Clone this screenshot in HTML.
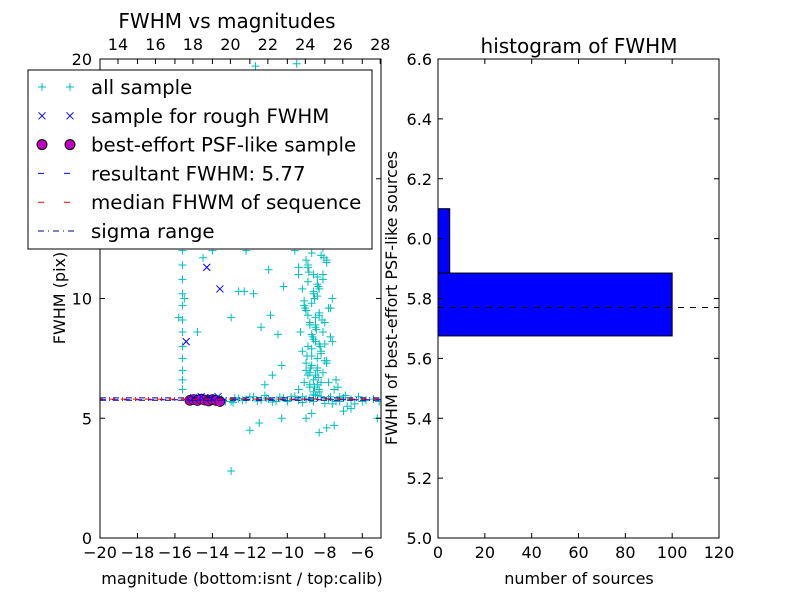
<!DOCTYPE html>
<html><head><meta charset="utf-8"><style>
body{margin:0;background:#fff;}
svg text{font-family:"DejaVu Sans","Liberation Sans",sans-serif;fill:#000;}
</style></head><body>
<svg id="c" width="800" height="600" xmlns="http://www.w3.org/2000/svg"></svg>
<script>
// ---- left scatter data (magnitude isnt, FWHM pix) ----
const allMag=[-15.6,-15.6,-15.6,-15.6,-15.6,-15.6,-15.6,-15.6,-15.6,-15.6,-15.6,-15.6,-15.6,-15.8,-15.5,-14.8,-14.3,-14.0,-13.0,-12.6,-14.5,
-9.4,-9.1,-8.8,-8.5,-8.3,-9.0,-8.7,-8.4,-9.2,-8.9,-8.6,-8.3,-9.3,-8.8,-8.5,-9.0,-8.7,-8.4,-9.2,-8.9,-8.6,-9.4,-9.0,-8.7,-9.3,-8.9,-9.5,-9.1,-9.6,-9.2,-9.8,-9.4,-9.9,-9.5,-10.0,-9.6,-10.1,-9.7,-10.2,-9.8,-9.5,-11.7,
-10.3,-10.8,-11.2,-10.5,-10.9,-11.4,-10.2,-11.0,-11.8,-12.3,-10.6,-12.0,-12.2,-7.8,-7.5,-7.2,-7.9,-7.6,-8.0,-7.7,-8.1,-7.9,-8.2,-8.0,-8.5,-8.8,-8.9,-9.2,
-8.6,-8.4,-8.8,-9.0,-8.2,-8.7,-8.5,-8.3,-9.1,-8.6,-8.4,-8.9,-8.1,-8.5,-8.7,-8.3,-9.0,-8.6,-8.8,-8.4,
-8.55,-8.35,-8.75,-8.95,-8.25,-8.65,-8.45,-8.15,-9.05,-8.55,-8.35,-8.85,-8.05,-8.45,-8.65,-8.25,-8.95,-8.55,-8.75,-8.35,
-8.6,-8.2,-8.9,-8.4,-8.0,-8.7,-8.5,-8.1,-8.8,-8.3,-9.1,-8.6,-8.4,-8.9,-8.2,-8.7,-9.3,-9.0,-9.4,-9.2,
-8.5,-8.3,-8.8,-8.6,-8.1,-8.4,-7.9,-8.7,-8.2,-8.0,-7.7,-8.5,-8.9,-7.8,-7.6,-8.3,-7.4,-8.1,-7.9,-7.3,
-9.6,-9.8,-10.0,-9.7,-9.9,-10.2,-9.5,-9.3,-9.6,-9.4,
-12.0,-13.0,-11.5,-10.3,-9.0,-8.3,-7.5,-8.7,-7.0,-6.6,-5.2,-7.9,
-15.3,-14.8,-14.2,-13.5,-13.0,-12.6,-12.2,-11.8,-11.4,-11.0,-10.6,-10.2,-9.8,-9.4,-9.0,-8.6,-8.2,-7.8,-7.4,-7.0,-6.6,-6.2,-5.8,-5.4,-5.1,-12.9,-11.2,-10.0,-9.2,-7.6,-6.9,-6.0,
-13.3,-12.8,-12.4,-12.0,-11.6,-11.1,-10.8,-10.4,-10.0,-9.6,-9.2,-8.8,-8.4,-8.0,-7.7,-7.2,-6.8,-6.4];
const allFwhm=[6.2,6.6,7.0,7.5,8.0,8.6,9.1,9.7,10.2,10.8,11.4,12.0,12.6,9.2,10.0,8.6,12.5,12.0,9.2,10.3,11.7,
6.2,6.5,6.3,6.8,6.1,7.0,7.2,7.5,7.8,8.0,8.3,8.1,8.6,8.9,9.2,9.5,9.8,10.1,10.4,10.7,11.0,11.3,11.6,11.9,12.2,12.5,12.8,13.1,13.4,13.8,14.1,14.5,15.0,15.5,16.0,16.6,17.2,17.8,18.5,19.3,19.8,19.7,
7.2,6.8,6.4,8.5,9.3,8.8,10.5,11.2,10.2,10.3,12.4,14.5,12.0,6.5,6.2,5.9,7.4,8.2,9.0,9.6,10.8,11.5,12.6,13.2,14.2,15.1,16.5,18.0,
6.0,6.4,6.9,7.3,7.7,8.5,8.8,9.4,9.9,10.3,10.9,11.4,12.1,12.9,13.6,14.8,15.8,16.9,17.5,18.8,
6.3,6.7,7.1,7.6,8.0,8.4,8.7,9.1,9.6,10.0,10.5,11.1,11.7,12.3,13.0,13.8,14.6,15.3,16.2,17.1,
6.1,6.5,6.8,7.1,7.4,7.9,8.2,8.6,9.0,9.3,9.7,10.2,10.6,11.3,11.8,12.4,13.4,14.0,15.7,16.8,
5.95,6.2,6.4,6.6,6.9,7.0,7.3,7.6,7.8,8.1,8.4,8.9,9.3,9.6,10.0,10.4,6.6,11.0,11.6,6.3,
14.3,15.2,16.4,17.5,18.2,18.9,13.5,13.0,12.0,11.0,
4.5,2.8,4.8,5.0,5.0,4.4,4.7,5.2,5.3,5.4,5.0,4.6,
5.8,5.75,5.85,5.8,5.7,5.82,5.78,5.9,5.75,5.8,5.7,5.85,5.9,5.75,5.8,5.7,5.9,5.82,5.7,5.85,5.78,5.9,5.75,5.8,5.7,5.65,5.95,5.7,5.9,5.6,5.95,5.7,
5.7,5.85,5.75,5.9,5.72,5.84,5.68,5.88,5.74,5.92,5.66,5.8,5.95,5.62,5.9,5.7,5.5,5.6];
const roughMag=[-15.4,-14.3,-13.6,-15.0,-14.6,-14.1,-13.7];
const roughFwhm=[8.2,11.3,10.4,5.85,5.9,5.85,5.9];
const bestMag=[-15.2,-15.0,-14.8,-14.6,-14.4,-14.2,-14.0,-13.8,-13.6];
const bestFwhm=[5.75,5.78,5.74,5.8,5.76,5.72,5.78,5.74,5.7];
const resultFwhm=5.77, medianFwhm=5.8, sigmaLo=5.75, sigmaHi=5.85;
const xTicks=[-20,-18,-16,-14,-12,-10,-8,-6];
const topTicks=[14,16,18,20,22,24,26,28];
const yTicks=[0,5,10,15,20];
// ---- histogram data ----
const binEdges=[5.675,5.885,6.1];
const binCounts=[100,5];
const hxTicks=[0,20,40,60,80,100,120];
const hyTicks=[5.0,5.2,5.4,5.6,5.8,6.0,6.2,6.4,6.6];

const NS="http://www.w3.org/2000/svg", svg=document.getElementById('c');
function mk(t,a,p){const e=document.createElementNS(NS,t);for(const k in a)e.setAttribute(k,a[k]);(p||svg).appendChild(e);return e;}
const L={x0:100,x1:381,y0:538,y1:59};
const sx=v=>L.x0+(v+20)/15*(L.x1-L.x0);
const sxTop=v=>sx(v-33.04);
const sy=v=>L.y0-v/20*(L.y0-L.y1);
const clipL=mk('clipPath',{id:'cl'});mk('rect',{x:L.x0,y:L.y1,width:L.x1-L.x0,height:L.y0-L.y1},clipL);
const gL=mk('g',{'clip-path':'url(#cl)'});


function plus(x,y,c,g){mk('path',{d:`M${x-4},${y}h8M${x},${y-4}v8`,stroke:c,'stroke-width':1,fill:'none'},g);}
function cross(x,y,c,g){mk('path',{d:`M${x-3.5},${y-3.5}l7,7M${x-3.5},${y+3.5}l7,-7`,stroke:c,'stroke-width':1,fill:'none'},g);}
for(let i=0;i<allMag.length;i++){plus(sx(allMag[i]),sy(allFwhm[i]),'#00bfbf',gL);}
for(let i=0;i<bestMag.length;i++){const c=mk('circle',{cx:sx(bestMag[i]),cy:sy(bestFwhm[i]),r:5,fill:'#bf00bf',stroke:'#000','stroke-width':0.7},gL);}
for(let i=0;i<roughMag.length;i++){cross(sx(roughMag[i]),sy(roughFwhm[i]),'#0000ff',gL);}
mk('line',{x1:L.x0,x2:L.x1,y1:sy(sigmaLo),y2:sy(sigmaLo),stroke:'#00008b','stroke-dasharray':'6,3,1,3'},gL);
mk('line',{x1:L.x0,x2:L.x1,y1:sy(sigmaHi),y2:sy(sigmaHi),stroke:'#00008b','stroke-dasharray':'6,3,1,3'},gL);
mk('line',{x1:L.x0,x2:L.x1,y1:sy(resultFwhm),y2:sy(resultFwhm),stroke:'#0000ff','stroke-dasharray':'6,6'},gL);
mk('line',{x1:L.x0,x2:L.x1,y1:sy(medianFwhm),y2:sy(medianFwhm),stroke:'#ff0000','stroke-dasharray':'6,6','stroke-dashoffset':3},gL);
mk('rect',{x:L.x0,y:L.y1,width:L.x1-L.x0,height:L.y0-L.y1,fill:'none',stroke:'#000'});
function txt(x,y,s,anchor,size,name,rot){const t=mk('text',{x:x,y:y,'text-anchor':anchor,'font-size':size});t.textContent=s;if(rot)t.setAttribute('transform',`rotate(-90 ${x} ${y})`);return t;}
xTicks.forEach(v=>{const x=sx(v);mk('path',{d:`M${x},${L.y0}v-5M${x},${L.y1}v5`,stroke:'#000'});txt(x,558,(v<0?'\u2212':'')+Math.abs(v),'middle',16,'x-tick-label');});
topTicks.forEach(v=>{const x=sxTop(v);mk('path',{d:`M${x},${L.y1}v5`,stroke:'#000'});txt(x,50,String(v),'middle',16,'top-tick-label');});
yTicks.forEach(v=>{const y=sy(v);mk('path',{d:`M${L.x0},${y}h5M${L.x1},${y}h-5`,stroke:'#000'});txt(92,y+6,String(v),'end',16,'y-tick-label');});
txt(227,28,'FWHM vs magnitudes','middle',20,'left-title');
txt(242,584,'magnitude (bottom:isnt / top:calib)','middle',16,'x-axis-title');
txt(65,298,'FWHM (pix)','middle',16,'y-axis-title',true);
const lg=mk('g',{});
mk('rect',{x:28,y:70,width:344,height:179,fill:'#fff',stroke:'#000'},lg);
const items=['all sample','sample for rough FWHM','best-effort PSF-like sample','resultant FWHM: 5.77','median FHWM of sequence','sigma range'];
items.forEach((s,i)=>{const y=87+i*28.8;
 if(i==0){plus(42,y,'#00bfbf',lg);plus(70,y,'#00bfbf',lg);}
 if(i==1){cross(42,y,'#0000ff',lg);cross(70,y,'#0000ff',lg);}
 if(i==2){mk('circle',{cx:42,cy:y,r:5,fill:'#bf00bf',stroke:'#000'},lg);mk('circle',{cx:70,cy:y,r:5,fill:'#bf00bf',stroke:'#000'},lg);}
 if(i==3)mk('line',{x1:38,x2:76,y1:y,y2:y,stroke:'#0000ff','stroke-dasharray':'6,20'},lg);
 if(i==4)mk('line',{x1:38,x2:76,y1:y,y2:y,stroke:'#ff0000','stroke-dasharray':'6,20'},lg);
 if(i==5)mk('line',{x1:38,x2:76,y1:y,y2:y,stroke:'#00008b','stroke-dasharray':'6,4,1,4'},lg);
 const t=txt(91,y+7,s,'start',19.8,'legend-entry');lg.appendChild(t);});
const R={x0:438,x1:719,y0:538,y1:59};
const hx=v=>R.x0+v/120*(R.x1-R.x0);
const hy=v=>R.y0-(v-5.0)/1.6*(R.y0-R.y1);
binCounts.forEach((c,i)=>{const r=mk('rect',{x:hx(0),y:hy(binEdges[i+1]),width:hx(c)-hx(0),height:hy(binEdges[i])-hy(binEdges[i+1]),fill:'#0000ff',stroke:'#000'});});
mk('line',{x1:R.x0,x2:R.x1,y1:hy(resultFwhm),y2:hy(resultFwhm),stroke:'#000','stroke-dasharray':'6,6'});
mk('rect',{x:R.x0,y:R.y1,width:R.x1-R.x0,height:R.y0-R.y1,fill:'none',stroke:'#000'});
hxTicks.forEach(v=>{const x=hx(v);mk('path',{d:`M${x},${R.y0}v-5M${x},${R.y1}v5`,stroke:'#000'});txt(x,558,String(v),'middle',16,'hist-x-tick-label');});
hyTicks.forEach(v=>{const y=hy(v);mk('path',{d:`M${R.x0},${y}h5M${R.x1},${y}h-5`,stroke:'#000'});txt(432,y+6,v.toFixed(1),'end',16,'hist-y-tick-label');});
txt(579,53,'histogram of FWHM','middle',20,'right-title');
txt(579,584,'number of sources','middle',16,'hist-x-axis-title');
txt(397,298,'FWHM of best-effort PSF-like sources','middle',16,'hist-y-axis-title',true);
</script>
</body></html>
